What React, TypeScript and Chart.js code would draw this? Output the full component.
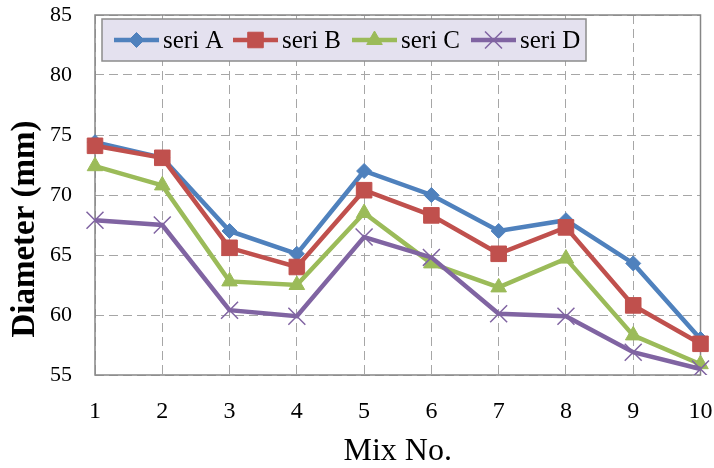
import { useEffect, useRef } from 'react';
import { Chart, registerables } from 'chart.js';
import { drawPoint } from 'chart.js/helpers';

Chart.register(...registerables);

// Mix numbers along the x axis
const mixNo = ['1', '2', '3', '4', '5', '6', '7', '8', '9', '10'];

// Measured diameters (mm) per mix
const seriA = [74.4, 73.1, 67.0, 65.1, 72.0, 70.0, 67.0, 67.9, 64.3, 58.0];
const seriB = [74.1, 73.1, 65.6, 64.0, 70.4, 68.3, 65.1, 67.3, 60.8, 57.6];
const seriC = [72.4, 70.8, 62.8, 62.5, 68.5, 64.3, 62.3, 64.7, 58.3, 55.9];
const seriD = [67.9, 67.5, 60.4, 59.9, 66.5, 64.8, 60.1, 59.9, 56.9, 55.5];

const seriesNames = ['seri A', 'seri B', 'seri C', 'seri D'];
const seriesColors = ['#4F81BD', '#C0504D', '#9BBB59', '#8064A2'];

// y axis range and step
const yMin = 55;
const yMax = 85;
const yStep = 5;

const yTitle = 'Diameter (mm)';

const SERIF = '"Liberation Serif", "Times New Roman", serif';

// Grey frame around the plot area
const frameBox = {
  id: 'frameBox',
  beforeDatasetsDraw(chart: any) {
    const { ctx, chartArea } = chart;
    ctx.save();
    ctx.strokeStyle = '#868686';
    ctx.lineWidth = 1.5;
    ctx.strokeRect(chartArea.left, chartArea.top, chartArea.right - chartArea.left, chartArea.bottom - chartArea.top);
    ctx.restore();
  },
};

// Vertical axis title, sitting a little below the plot's middle
const sideTitle = {
  id: 'sideTitle',
  afterDraw(chart: any) {
    const { ctx, chartArea } = chart;
    ctx.save();
    ctx.translate(25, (chartArea.top + chartArea.bottom) / 2 + 34);
    ctx.rotate(-Math.PI / 2);
    ctx.fillStyle = '#000000';
    ctx.font = 'bold 33px ' + SERIF;
    ctx.textAlign = 'center';
    ctx.textBaseline = 'middle';
    ctx.fillText(yTitle, 0, 0);
    ctx.restore();
  },
};

// Boxed legend drawn inside the top of the plot area
const boxedLegend = {
  id: 'boxedLegend',
  afterDatasetsDraw(chart: any) {
    const { ctx, chartArea } = chart;
    const bx = chartArea.left + 7;
    const by = chartArea.top + 4;
    const bw = 484;
    const bh = 42;
    ctx.save();
    ctx.fillStyle = '#E4E1EF';
    ctx.fillRect(bx, by, bw, bh);
    ctx.strokeStyle = '#8C8C8C';
    ctx.lineWidth = 1.5;
    ctx.strokeRect(bx, by, bw, bh);
    const cy = by + bh / 2;
    chart.data.datasets.forEach((ds: any, i: number) => {
      const x0 = bx + 12 + i * 119;
      ctx.strokeStyle = ds.borderColor;
      ctx.lineWidth = 4.5;
      ctx.beginPath();
      ctx.moveTo(x0, cy);
      ctx.lineTo(x0 + 45, cy);
      ctx.stroke();
      ctx.fillStyle = ds.pointBackgroundColor;
      ctx.strokeStyle = ds.pointBorderColor;
      ctx.lineWidth = ds.pointBorderWidth;
      drawPoint(ctx, { pointStyle: ds.pointStyle, radius: ds.pointRadius, rotation: 0, borderWidth: ds.pointBorderWidth }, x0 + 22.5, cy);
      ctx.fillStyle = '#000000';
      ctx.font = '25px ' + SERIF;
      ctx.textBaseline = 'middle';
      ctx.textAlign = 'left';
      ctx.fillText(ds.label, x0 + 49, cy + 1);
    });
    ctx.restore();
  },
};

export default function App() {
  const canvasRef = useRef<HTMLCanvasElement | null>(null);

  useEffect(() => {
    const canvas = canvasRef.current;
    if (!canvas) return;
    const values = [seriA, seriB, seriC, seriD];
    const styles = ['rectRot', 'rect', 'triangle', 'crossRot'];
    const radii = [7.5, 11, 9, 12];
    const chart = new Chart(canvas, {
      type: 'line',
      data: {
        labels: mixNo,
        datasets: values.map((v, i) => ({
          label: seriesNames[i],
          data: v,
          borderColor: seriesColors[i],
          backgroundColor: seriesColors[i],
          pointBackgroundColor: seriesColors[i],
          pointBorderColor: seriesColors[i],
          pointBorderWidth: i === 3 ? 1.5 : 1,
          pointStyle: styles[i],
          pointRadius: radii[i],
          borderWidth: 4.5,
          tension: 0,
          fill: false,
          order: 3 - i,
        })),
      },
      options: {
        responsive: false,
        animation: false,
        devicePixelRatio: 1,
        layout: { padding: { top: 15, right: 11, left: 0, bottom: 0 } },
        plugins: {
          legend: { display: false },
          tooltip: { enabled: false },
        },
        scales: {
          x: {
            type: 'category',
            offset: false,
            grid: { color: '#A6A6A6', lineWidth: 1, drawTicks: false },
            border: { display: false, dash: [9, 5] },
            ticks: {
              color: '#000000',
              font: { family: SERIF, size: 24 },
              padding: 22,
              maxRotation: 0,
            },
            title: {
              display: true,
              text: 'Mix No.',
              color: '#000000',
              font: { family: SERIF, size: 32, lineHeight: 1 },
              padding: { top: 0, bottom: 0 },
            },
            afterFit(scale: any) {
              scale.height = 93;
              scale.paddingLeft = 0;
              scale.paddingRight = 0;
            },
          },
          y: {
            min: yMin,
            max: yMax,
            grid: { color: '#A6A6A6', lineWidth: 1, drawTicks: false },
            border: { display: false, dash: [9, 5] },
            ticks: {
              stepSize: yStep,
              color: '#000000',
              font: { family: SERIF, size: 22 },
              padding: 23,
            },
            afterFit(scale: any) {
              scale.width = 95;
              scale.paddingTop = 0;
              scale.paddingBottom = 0;
            },
          },
        },
      },
      plugins: [frameBox, boxedLegend, sideTitle],
    } as any);
    return () => chart.destroy();
  }, []);

  return (
    <div style={{ position: 'absolute', left: 0, top: 0, width: 714, height: 468, background: '#ffffff' }}>
      <canvas ref={canvasRef} width={714} height={468} style={{ display: 'block' }} />
    </div>
  );
}
